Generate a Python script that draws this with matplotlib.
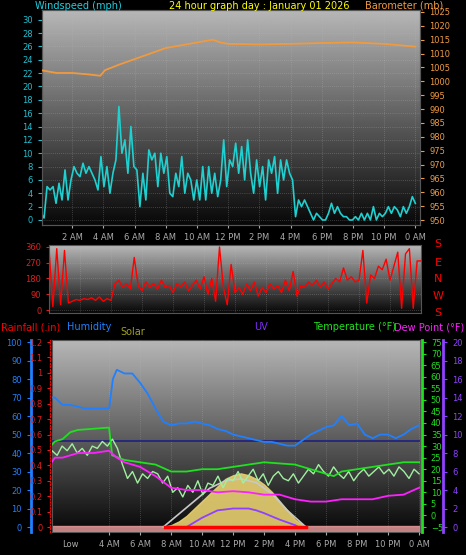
import numpy as np
import matplotlib
matplotlib.use("Agg")
import matplotlib.pyplot as plt

W, H = 466, 555
wind = [1,0.3,5,4.5,5,2.5,5.5,3,7.5,3,6,8,7,6.5,8.5,7,8,7,6,4.5,9.5,5,8,4,7,9,17,10,12,7,14,8,7.5,2,7,3,10.5,9,10,5,
        10,7,9.5,4,3.5,7,5,9.5,4,7,6,3,6,3,8,3,8,4,7,3.5,6,12,5,9,8,11.5,7,11,6,12,7,4,9,5,8,3,9,7,9.5,4,
        9,6,9,7,6,0.5,3,2,3,2,1,0,1,0.5,0,0,1,2.5,1,2,1,0.5,0.5,0,0,0.5,0,1,0,1,0,2,0,1,0.5,1,2,1,2,1.5,
        0.5,2,1,2,3.5,2.5]
baro_h = [0,1,2,3,3.8,4.1,5,6,7,8,9,10,11,11.5,12,14,16,18,20,22,24]
baro = [1004,1003,1003,1002.5,1002,1004,1006,1008,1010,1012,1013,1014,1015,1014,1013.5,1013.3,1013.5,1013.8,1014,1013.5,1012.5]
wdir = [350,20,350,30,340,40,50,60,55,65,60,70,55,75,50,65,55,150,170,130,150,120,300,140,110,160,130,150,120,170,130,140,
        100,150,130,160,110,140,170,120,190,90,180,50,360,130,30,260,100,130,90,150,110,160,80,130,100,150,120,140,100,170,110,220,
        80,140,130,160,140,170,130,160,120,150,180,160,240,170,190,160,170,340,40,200,180,250,230,290,170,250,330,10,320,350,10,280,280]
hum_h = [0,0.5,1,1.5,2,2.5,3,3.5,4,4.25,4.5,5,5.5,6,6.5,7,7.5,8,8.5,9,9.5,10,10.5,11,11.5,12,12.5,13,13.5,14,14.5,15,15.5,16,16.5,
         17,17.5,18,18.5,19,19.5,20,20.5,21,21.5,22,22.5,23,23.5,24]
hum = [70,70,66,66,65,64,64,64,64,80,85,83,83,78,72,64,57,55,56,56,57,56,55,53,52,50,49,48,47,46,46,45,44,44,47,50,52,54,55,60,
       55,56,50,48,50,50,48,50,53,55]
temp_h = [0,0.5,1,1.5,2,3,4,4.2,5,6,7,8,9,10,11,12,13,14,15,16,17,18,18.5,19,20,21,22,23,24]
temp = [28,32,33,36,37,37.5,38,26,24,23,22,19,19,20,20,21,22,23,22.5,22,20,18,17,19,20,21,22,23,23]
dew_h = [0,0.5,1,2,3,4,4.5,5,6,7,8,9,10,11,12,13,14,15,16,17,18,19,20,21,22,23,24]
dew = [20,25,25,27,27,28,25,23,21,17,12,11,11,10,10.5,10,9,9,7,6,6,7,7,7,8.5,9,12]
chill = [23,28,26,30,28,31,27,29,26,30,29,32,30,33,29,22,16,19,14,18,16,19,18,14,17,10,12,8,13,10,15,9,14,13,17,12,16,15,19,14,
         17,20,15,18,13,17,19,16,15,18,14,17,20,18,22,19,17,21,18,16,19,15,18,20,17,19,21,18,20,17,21,19,16,20,18]
solar_h = [7.5,8,8.5,9,9.5,10,10.5,11,11.5,12,12.5,13,13.5,14,14.5,15,15.5,16,16.5,16.75]
solar = [0,1,3,6,10,14,18,22,26,28,29,28,26,23,19,14,9,4,1,0]
solmax_h = [7.5,8.5,9.5,10.5,11.5,12.5,13.5,14.5,15.5,16.7]
solmax = [0,7,14,21,25,26,24,18,9,0]
uv_h = [9,9.5,10,11,12,13,13.5,14,15,15.5,16,16.2]
uv = [0,0.5,1,1.8,2,2,1.8,1.5,0.8,0.5,0.2,0]
hours = [2,4,6,8,10,12,14,16,18,20,22,24]
hour_labels = ["2 AM","4 AM","6 AM","8 AM","10 AM","12 PM","2 PM","4 PM","6 PM","8 PM","10 PM","0 AM"]

fig = plt.figure(figsize=(W/100, H/100), dpi=100, facecolor="black")
def box(l, t, r, b):
    return [l/W, 1-b/H, (r-l)/W, (b-t)/H]
grad = np.linspace(0.72, 0.03, 256).reshape(-1, 1)
def bg(ax):
    ax.imshow(grad, cmap="gray", vmin=0, vmax=1, aspect="auto", extent=[0,1,0,1],
              transform=ax.transAxes, zorder=0)
    ax.set_facecolor("black")
    ax.grid(True, color="#bbbbbb", linestyle=(0,(1,2)), linewidth=0.5, alpha=0.5)
    ax.set_axisbelow(False)
fs = 6
tfs = 7
# Top panel
ax1 = fig.add_axes(box(42,10,420,225))
bg(ax1)
t = np.linspace(0, 24, len(wind))
ax1.plot(t, wind, color="#20d0d0", lw=1.2, zorder=3)
ax1.set_xlim(0.06, 24.3); ax1.set_ylim(-0.75, 31.45)
ax1.set_yticks(range(0, 31, 2))
ax1.set_xticks(hours); ax1.set_xticklabels(hour_labels)
ax1.tick_params(axis="y", colors="#20c0d0", labelsize=fs, length=3)
ax1.tick_params(axis="x", colors="#aaaaaa", labelsize=fs, length=2)
ax1b = ax1.twinx()
ax1b.plot(baro_h, baro, color="#f09a40", lw=1.3, zorder=3)
ax1b.set_ylim(948.2, 1025.7); ax1b.set_yticks(range(950, 1026, 5))
ax1b.tick_params(axis="y", colors="#f09a40", labelsize=fs, length=3)
for a in (ax1, ax1b):
    for s in a.spines.values(): s.set_color("#555555")
fig.text(35/W, 1-6/H, "Windspeed (mph)", color="#20d0e0", fontsize=tfs, va="center")
fig.text(259/W, 1-6/H, "24 hour graph day : January 01 2026", color="yellow", fontsize=tfs, va="center", ha="center")
fig.text(443/W, 1-6/H, "Barometer (mb)", color="#f09a40", fontsize=tfs, va="center", ha="right")
# Middle
ax2 = fig.add_axes(box(49,245,421,313))
bg(ax2)
ax2.plot(np.linspace(0, 24, len(wdir)), wdir, color="red", lw=1.0, zorder=3)
ax2.set_xlim(0, 24); ax2.set_ylim(-17, 371)
ax2.set_yticks([0,90,180,270,360]); ax2.set_xticks(hours); ax2.set_xticklabels([])
ax2.tick_params(axis="y", colors="#dd2020", labelsize=fs, length=2)
ax2.tick_params(axis="x", length=0)
for s in ax2.spines.values(): s.set_color("#555555")
for lab, y in zip("SENWS", [244,263,279,296,313]):
    fig.text(438/W, 1-y/H, lab, color="red", fontsize=8, ha="center", va="center")
# Bottom
ax3 = fig.add_axes(box(52,340,420,532))
bg(ax3)
ax3.set_xlim(0.32, 24.06); ax3.set_ylim(-2.7, 101.1)
def tc(v): return (np.asarray(v) + 5) * 100 / 80
ax3.fill_between(solar_h, solar, color="#e8d070", alpha=0.9, zorder=2)
ax3.plot(solmax_h, solmax, color="#c8c8c8", lw=1.2, zorder=3)
ax3.axhline(tc(32), color="#202080", lw=1.2, zorder=3)
ax3.plot(hum_h, hum, color="#2080ff", lw=1.3, zorder=4)
ax3.plot(np.linspace(0, 24, len(chill)), tc(chill), color="#a0f0a0", lw=1.0, zorder=3)
ax3.plot(temp_h, tc(temp), color="#20e020", lw=1.3, zorder=4)
ax3.plot(dew_h, tc(dew), color="#ff20ff", lw=1.3, zorder=4)
ax3.plot(uv_h, np.asarray(uv)*5, color="#9040ff", lw=1.3, zorder=4)
ax3.axhspan(-2.7, 0.8, color="#f0a0a0", alpha=0.8, zorder=2)
ax3.plot([7.6, 16.7], [0, 0], color="red", lw=2.5, zorder=5)
ax3.set_xticks(hours[1:]); ax3.set_xticklabels(hour_labels[1:])
ax3.tick_params(axis="x", colors="#aaaaaa", labelsize=fs, length=2)
ax3.text(1.0, -0.04, "Low", color="#aaaaaa", fontsize=fs, transform=ax3.get_xaxis_transform(), va="top")
ax3.set_yticks([])
for s in ax3.spines.values(): s.set_color("#555555")
hx = ax3.twinx(); hx.set_ylim(-2.7, 101.1)
hx.yaxis.set_ticks_position("left"); hx.yaxis.set_label_position("left")
hx.spines["left"].set_position(("axes", -0.057)); hx.spines["left"].set_color("#2080ff"); hx.spines["left"].set_linewidth(2)
hx.set_yticks(range(0, 101, 10)); hx.tick_params(axis="y", colors="#2080ff", labelsize=fs, length=3)
rx = ax3.twinx(); rx.set_ylim(-0.0324, 1.2132)
rx.yaxis.set_ticks_position("left")
rx.spines["left"].set_position(("axes", -0.005)); rx.spines["left"].set_color("red"); rx.spines["left"].set_linestyle(":")
rx.set_yticks(np.round(np.arange(0, 1.21, 0.1), 1)); rx.tick_params(axis="y", colors="#e02020", labelsize=fs, length=2)
rx.set_yticklabels(["0"] + [f"{v:g}" for v in np.round(np.arange(0.1, 1.21, 0.1), 1)])
tx = ax3.twinx(); tx.set_ylim(-5 - 2.7*0.8, -5 + 101.1*0.8)
tx.spines["right"].set_position(("axes", 1.005)); tx.spines["right"].set_color("#20e020"); tx.spines["right"].set_linewidth(2)
tx.set_yticks(range(-5, 76, 5)); tx.tick_params(axis="y", colors="#20e020", labelsize=fs, length=3)
ux = ax3.twinx(); ux.set_ylim(-2.7/5, 101.1/5)
ux.spines["right"].set_position(("axes", 1.063)); ux.spines["right"].set_color("#9040ff"); ux.spines["right"].set_linewidth(2)
ux.set_yticks(range(0, 21, 2)); ux.tick_params(axis="y", colors="#9040ff", labelsize=fs, length=3)
for a in (hx, rx, tx, ux):
    a.set_xlim(0.32, 24.06)
    for k in ("top", "bottom"): a.spines[k].set_visible(False)
for a in (hx, rx): a.spines["right"].set_visible(False)
for a in (tx, ux): a.spines["left"].set_visible(False)
fig.text(1/W, 1-327/H, "Rainfall (.in)", color="red", fontsize=tfs, va="center")
fig.text(67/W, 1-327/H, "Humidity", color="#2080ff", fontsize=tfs, va="center")
fig.text(120/W, 1-332/H, "Solar", color="#a0a020", fontsize=tfs, va="center")
fig.text(254/W, 1-327/H, "UV", color="#8030ff", fontsize=tfs, va="center")
fig.text(313/W, 1-327/H, "Temperature (°F)", color="#20e020", fontsize=tfs, va="center")
fig.text(464/W, 1-327/H, "Dew Point (°F)", color="#ff20ff", fontsize=tfs, va="center", ha="right")
fig.savefig("out.png", dpi=100, facecolor="black")
